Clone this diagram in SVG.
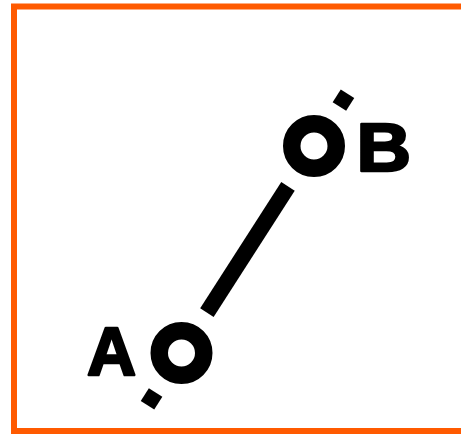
<svg xmlns="http://www.w3.org/2000/svg" width="461" height="435" viewBox="0 0 461 435">
  <style>
    .frame { fill: #ffffff; stroke: #ff5a00; stroke-width: 6; }
    .ring { fill: none; stroke: #000000; stroke-width: 17.5; }
    .seg { stroke: #000000; stroke-width: 16; stroke-linecap: butt; fill: none; }
    .lbl { font-family: "Liberation Sans", Arial, sans-serif; font-weight: bold; font-size: 68px; fill: #000000; stroke: #000000; stroke-width: 2.5; stroke-linejoin: round; }
  </style>
  <rect x="0" y="0" width="461" height="435" fill="#ffffff"/>
  <rect class="frame" x="14" y="6.5" width="470" height="424.5"/>
  <g id="connectors">
    <line class="seg" x1="206.9" y1="312.6" x2="288.0" y2="186.4"/>
    <line class="seg" x1="339.4" y1="106.5" x2="347.5" y2="93.8"/>
    <line class="seg" x1="155.6" y1="392.5" x2="147.5" y2="405.2"/>
  </g>
  <g id="nodeA">
    <circle class="ring" cx="181.5" cy="353" r="22.25"/>
    <text class="lbl" x="87" y="375">A</text>
  </g>
  <g id="nodeB">
    <circle class="ring" cx="314" cy="146" r="22.25"/>
    <text class="lbl" transform="translate(362,170.5) scale(1.11,1)" x="-5" y="0">B</text>
  </g>
</svg>
